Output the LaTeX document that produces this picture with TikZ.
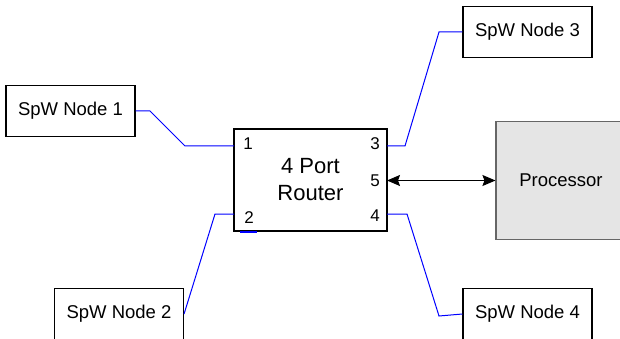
\documentclass[tikz,border=0pt]{standalone}
\usepackage{fontspec}
\setmainfont{Liberation Sans}
\usetikzlibrary{arrows.meta}
\begin{document}
\begin{tikzpicture}[x=1pt,y=-1pt,
  spw/.style={draw=black,line width=1.1pt,fill=white,minimum width=129pt,minimum height=51pt,inner sep=0pt,font=\fontsize{18.5}{20}\selectfont},
  router/.style={draw=black,line width=1.1pt,fill=white,minimum width=153pt,minimum height=102pt,inner sep=0pt,align=center,font=\fontsize{22}{27}\selectfont},
  proc/.style={draw=black!60,line width=1.1pt,fill=black!10,minimum width=130pt,minimum height=118pt,inner sep=0pt,font=\fontsize{18.5}{20}\selectfont},
  port/.style={inner sep=0pt,font=\fontsize{17}{19}\selectfont},
  link/.style={draw=blue,line width=1pt},
  bidir/.style={draw=black,line width=1pt,{Stealth[length=13pt,width=11pt,inset=2pt]}-{Stealth[length=13pt,width=11pt,inset=2pt]}}]
\useasboundingbox (0,0) rectangle (620,339);
\clip (0,0) rectangle (620,339);
\node[spw] (n1) at (70.5,111) {SpW Node 1};
\node[spw] (n3) at (527.5,32) {SpW Node 3};
\node[spw] (n2) at (119,314) {SpW Node 2};
\node[spw] (n4) at (527.5,314) {SpW Node 4};
\node[router] (r) at (310.5,180) {4 Port\\Router};
\node[proc] (p) at (561,180.5) {Processor};
\node[port] (l1) at (248,144) {1};
\node[port] (l2) at (249,218) {2};
\node[port] (l3) at (375,144) {3};
\node[port] (l4) at (375,216) {4};
\node[port] (l5) at (375,181) {5};
\coordinate (p1) at (234,146);
\coordinate (p2) at (234,214);
\coordinate (p3) at (387,146);
\coordinate (p4) at (387,214);
\coordinate (p5) at (387,180.5);
\coordinate (m1) at (240,232);
\coordinate (m2) at (257,232);
\draw[link] (n1.east) -- (150,111) -- (185,146) -- (p1);
\draw[link] (n2.east) -- (215,214) -- (p2);
\draw[link] (p3) -- (405,146) -- (439,32) -- (n3.west);
\draw[link] (p4) -- (407,214) -- (439,316) -- (n4.west);
\draw[draw=blue,line width=1.5pt] (m1) -- (m2);
\draw[bidir] (p5) -- (p.west |- p5);
\end{tikzpicture}
\end{document}
